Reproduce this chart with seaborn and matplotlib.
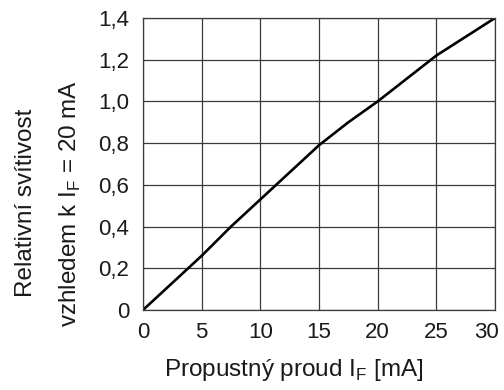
import matplotlib
matplotlib.use("Agg")
import matplotlib.pyplot as plt
import matplotlib.transforms as mtransforms
import seaborn as sns
import pandas as pd

# Data
current_ma = [0, 2.5, 5, 7.5, 10, 12.5, 15, 17.5, 20, 22.5, 25, 27.5, 30]
rel_intensity = [0, 0.13, 0.26, 0.40, 0.53, 0.66, 0.79, 0.90, 1.00, 1.11, 1.22, 1.31, 1.40]
x_ticks = [0, 5, 10, 15, 20, 25, 30]
x_tick_labels = ["0", "5", "10", "15", "20", "25", "30"]
y_ticks = [0, 0.2, 0.4, 0.6, 0.8, 1.0, 1.2, 1.4]
y_tick_labels = ["0", "0,2", "0,4", "0,6", "0,8", "1,0", "1,2", "1,4"]
x_label = "Propustný proud I$_\\mathregular{F}$ [mA]"
y_label = "Relativní svítivost\nvzhledem k I$_\\mathregular{F}$ = 20 mA"

sns.set_style("white")
plt.rcParams["font.family"] = ["Liberation Sans", "DejaVu Sans"]

df = pd.DataFrame({"I": current_ma, "L": rel_intensity})

fig = plt.figure(figsize=(5.04, 3.9), dpi=100)
ax = fig.add_axes([143 / 504, 1 - 310 / 390, 352 / 504, 292 / 390])

sns.lineplot(data=df, x="I", y="L", ax=ax, color="black", linewidth=1.9)

ax.set_xlim(0, 30)
ax.set_ylim(0, 1.4)
ax.set_xticks(x_ticks)
ax.set_xticklabels(x_tick_labels)
ax.set_yticks(y_ticks)
ax.set_yticklabels(y_tick_labels)
ax.tick_params(axis="both", labelsize=16, length=2, color="#333333", colors="#1a1a1a")
ax.tick_params(axis="x", pad=7)
ax.tick_params(axis="y", pad=8)

# keep the last x label inside the figure, as in the reference
last = ax.get_xticklabels()[-1]
last.set_transform(last.get_transform() + mtransforms.ScaledTranslation(-9 / 100, 0, fig.dpi_scale_trans))

ax.grid(True, color="#3a3a3a", linewidth=0.9)
for s in ax.spines.values():
    s.set_color("#3a3a3a")
    s.set_linewidth(0.9)

ax.set_xlabel(x_label, fontsize=17.5, color="#1a1a1a")
ax.xaxis.set_label_coords((294 - 143) / 352, (310 - 370) / 292)
ax.xaxis.label.set_va("center")

ax.set_ylabel(y_label, fontsize=17.5, color="#1a1a1a", linespacing=2.05, multialignment="center")
ax.yaxis.label.set_va("center")
ax.yaxis.set_label_coords((49 - 143) / 352, (310 - 203) / 292)

fig.savefig("out.png", dpi=100, facecolor="white")
